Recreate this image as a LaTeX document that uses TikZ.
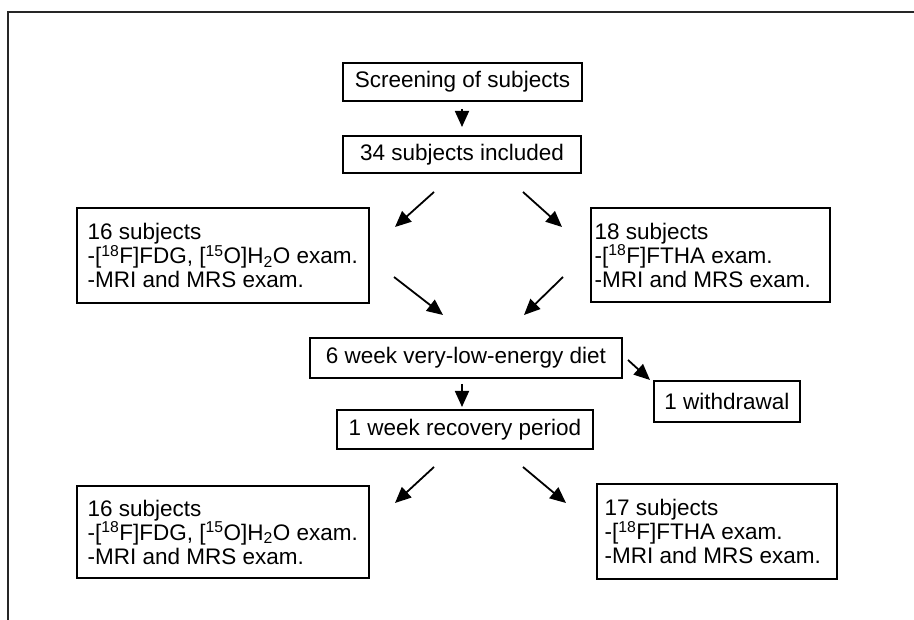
\documentclass[tikz,border=0pt]{standalone}
\usepackage{fontspec}
\setmainfont{Liberation Sans}
\usetikzlibrary{arrows.meta}
\begin{document}
\begin{tikzpicture}[x=1pt,y=-1pt,
  box/.style={draw, line width=1.2pt, inner sep=0pt, font=\fontsize{22.5}{24}\selectfont},
  txt/.style={inner sep=0pt, align=left, anchor=west, font=\fontsize{22.5}{24}\selectfont},
  arr/.style={line width=1.8pt, -{Triangle[length=16pt,width=14pt]}},
  frame/.style={line width=1.8pt, draw=black!85}]
\useasboundingbox (0,0) rectangle (914,620);
\draw[frame] (8,620) -- (8,12) -- (914,12);

\node[box, minimum width=239pt, minimum height=38pt] (scr) at (462.5,82) {Screening of subjects};
\node[box, minimum width=238pt, minimum height=37pt] (inc) at (462,154.5) {34 subjects included};
\node[box, minimum width=292pt, minimum height=95pt] (tl) at (223,255.5) {};
\node[txt] (tlt) at ([xshift=11pt]tl.west)
  {16 subjects\\-[\textsuperscript{18}F]FDG, [\textsuperscript{15}O]H\textsubscript{2}O exam.\\-MRI and MRS exam.};
\node[box, minimum width=239pt, minimum height=94pt] (tr) at (710.5,255) {};
\node[txt] (trt) at ([xshift=4pt]tr.west)
  {18 subjects\\-[\textsuperscript{18}F]FTHA exam.\\-MRI and MRS exam.};
\node[box, minimum width=312pt, minimum height=40pt] (diet) at (466,358) {6 week very-low-energy diet};
\node[box, minimum width=146pt, minimum height=41pt] (wd) at (727,401.5) {1 withdrawal};
\node[box, minimum width=256pt, minimum height=39pt] (rec) at (465,429.5) {1 week recovery period};
\node[box, minimum width=292pt, minimum height=92pt] (bl) at (223,532) {};
\node[txt] (blt) at ([xshift=11pt]bl.west)
  {16 subjects\\-[\textsuperscript{18}F]FDG, [\textsuperscript{15}O]H\textsubscript{2}O exam.\\-MRI and MRS exam.};
\node[box, minimum width=240pt, minimum height=95pt] (br) at (717,531.5) {};
\node[txt] (brt) at ([xshift=8pt]br.west)
  {17 subjects\\-[\textsuperscript{18}F]FTHA exam.\\-MRI and MRS exam.};

\coordinate (a1s) at (462,109); \coordinate (a1e) at (462,127);
\coordinate (a2s) at (434,192); \coordinate (a2e) at (395,227);
\coordinate (a3s) at (523,192); \coordinate (a3e) at (562,227);
\coordinate (a4s) at (394,277); \coordinate (a4e) at (443,315);
\coordinate (a5s) at (563,277); \coordinate (a5e) at (524,315);
\coordinate (a6s) at (462,384); \coordinate (a6e) at (462,407);
\coordinate (a7s) at (628,360); \coordinate (a7e) at (650,380);
\coordinate (a8s) at (434,467); \coordinate (a8e) at (395,503);
\coordinate (a9s) at (523,467); \coordinate (a9e) at (566,503);
\foreach \i in {1,...,9} \draw[arr] (a\i s) -- (a\i e);
\end{tikzpicture}
\end{document}
